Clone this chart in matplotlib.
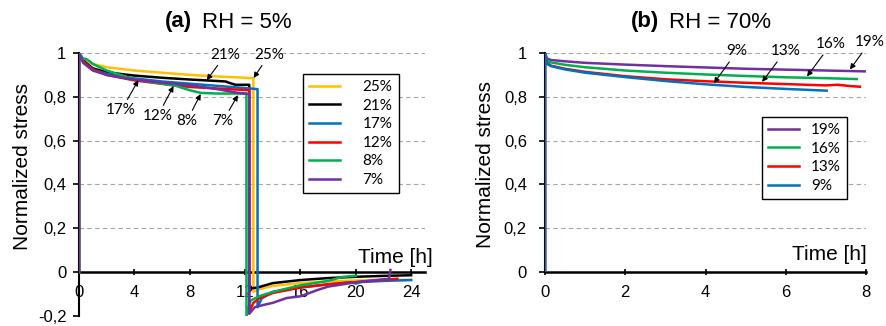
import matplotlib
matplotlib.use("Agg")
import matplotlib.pyplot as plt

plt.rcParams['font.family'] = ['Liberation Sans', 'DejaVu Sans']

# ---- (a) RH = 5% : relaxation then unloading at ~12 h ----
t25 = [0, 0, 0.3, 1, 2, 4, 6, 8, 10, 12, 12.6, 12.6, 12.9, 13.5, 14, 16, 18, 20, 22, 24]
s25 = [0, 1, 0.97, 0.95, 0.935, 0.92, 0.91, 0.90, 0.893, 0.887, 0.885, -0.09, -0.08, -0.07, -0.063, -0.05, -0.042, -0.038, -0.035, -0.035]

t21 = [0, 0, 0.3, 1, 2, 4, 6, 8, 9.2, 10.6, 10.8, 11.3, 12.3, 12.3, 12.9, 14, 16, 18, 20, 22, 24]
s21 = [0, 1, 0.965, 0.93, 0.912, 0.897, 0.887, 0.879, 0.875, 0.87, 0.865, 0.855, 0.855, -0.075, -0.07, -0.05, -0.036, -0.027, -0.021, -0.017, -0.014]

t17 = [0, 0, 0.3, 1, 2, 4, 6, 8, 10, 12, 12.9, 12.9, 13.2, 14, 16, 18, 19.6, 20, 20.4, 22, 24]
s17 = [0, 1, 0.96, 0.925, 0.905, 0.884, 0.87, 0.86, 0.85, 0.84, 0.835, -0.16, -0.12, -0.09, -0.07, -0.056, -0.046, -0.052, -0.045, -0.04, -0.036]

t12 = [0, 0, 0.3, 1, 2, 4, 6.8, 8, 10, 12.3, 12.3, 12.6, 13, 14, 16, 18, 20, 22, 23]
s12 = [0, 1, 0.96, 0.925, 0.9, 0.875, 0.853, 0.845, 0.838, 0.83, -0.18, -0.14, -0.12, -0.095, -0.07, -0.055, -0.045, -0.035, -0.03]

t8 = [0, 0, 0.3, 0.6, 1, 2, 4, 6, 7, 8, 8.8, 10, 11, 12.1, 12.1, 12.4, 13, 14, 16, 18, 19, 20]
s8 = [0, 1, 0.975, 0.97, 0.95, 0.92, 0.88, 0.86, 0.85, 0.83, 0.818, 0.815, 0.815, 0.815, -0.2, -0.13, -0.11, -0.09, -0.06, -0.04, -0.022, -0.016]

t7 = [0, 0, 0.3, 1, 2, 4, 6, 8, 10, 11.5, 12.3, 12.3, 12.7, 13.3, 14, 15, 16, 17.3, 18, 20, 22.4, 22.5]
s7 = [0, 1, 0.955, 0.92, 0.9, 0.878, 0.865, 0.853, 0.835, 0.818, 0.813, -0.19, -0.16, -0.15, -0.14, -0.118, -0.11, -0.08, -0.066, -0.046, -0.03, 0.01]

labels_a = ['25%', '21%', '17%', '12%', '8%', '7%']
colors_a = ['#FFC000', '#000000', '#0070C0', '#FF0000', '#00B050', '#7030A0']
series_a = [(t25, s25), (t21, s21), (t17, s17), (t12, s12), (t8, s8), (t7, s7)]

# arrow labels: (text, text position, arrow tip)
notes_a = [
    ('21%', (10.6, 0.993), (9.23, 0.876)),
    ('25%', (13.74, 0.993), (12.62, 0.886)),
    ('17%', (3.05, 0.738), (4.29, 0.876)),
    ('12%', (5.67, 0.711), (6.83, 0.849)),
    ('8%', (7.78, 0.688), (8.79, 0.813)),
    ('7%', (10.39, 0.688), (11.48, 0.808)),
]

# ---- (b) RH = 70% ----
t19 = [0, 0, 0.05, 0.15, 0.5, 1, 2, 3, 4, 5, 6, 7, 8]
s19 = [0, 1, 0.975, 0.968, 0.962, 0.955, 0.947, 0.94, 0.934, 0.928, 0.924, 0.92, 0.916]

t16 = [0, 0, 0.05, 0.15, 0.5, 1, 2, 3, 4, 5, 6, 7, 7.77]
s16 = [0, 1, 0.965, 0.957, 0.946, 0.935, 0.92, 0.91, 0.902, 0.895, 0.889, 0.885, 0.881]

t13 = [0, 0, 0.05, 0.15, 0.5, 1, 2, 3, 4, 5, 6, 7, 7.3, 7.6, 7.85]
s13 = [0, 1, 0.955, 0.942, 0.928, 0.914, 0.894, 0.88, 0.871, 0.864, 0.858, 0.852, 0.855, 0.849, 0.846]

t9 = [0, 0, 0.05, 0.15, 0.5, 1, 2, 3, 4, 5, 6, 7.02]
s9 = [0, 1, 0.95, 0.94, 0.925, 0.91, 0.89, 0.872, 0.857, 0.845, 0.836, 0.828]

labels_b = ['19%', '16%', '13%', '9%']
colors_b = ['#7030A0', '#00B050', '#FF0000', '#0070C0']
series_b = [(t19, s19), (t16, s16), (t13, s13), (t9, s9)]

notes_b = [
    ('9%', (4.79, 1.009), (4.21, 0.862)),
    ('13%', (5.99, 1.009), (5.41, 0.868)),
    ('16%', (7.13, 1.041), (6.53, 0.893)),
    ('19%', (8.1, 1.05), (7.6, 0.925)),
]

yticks_a = [-0.2, 0, 0.2, 0.4, 0.6, 0.8, 1.0]
ylabels_a = ['-0,2', '0', '0,2', '0,4', '0,6', '0,8', '1']
xticks_a = [0, 4, 8, 12, 16, 20, 24]
yticks_b = [0, 0.2, 0.4, 0.6, 0.8, 1.0]
ylabels_b = ['0', '0,2', '0,4', '0,6', '0,8', '1']
xticks_b = [0, 2, 4, 6, 8]

W, H = 886, 326
fig = plt.figure(figsize=(W / 100, H / 100), dpi=100)
ax1 = fig.add_axes([79 / W, 1 - 316 / H, 346 / W, 263 / H])
ax2 = fig.add_axes([545 / W, 1 - 272 / H, 321 / W, 219 / H])

grid_kw = dict(color='#A6A6A6', lw=0.8, ls=(0, (4, 3)), zorder=1)
note_font = ['Lato', 'DejaVu Sans']


def style(ax, xlim, ylim, xticks, yticks, ylabels, ypad):
    ax.set_xlim(*xlim)
    ax.set_ylim(*ylim)
    for y in yticks:
        if y != 0:
            ax.axhline(y, **grid_kw)
    for s in ['top', 'right']:
        ax.spines[s].set_visible(False)
    ax.spines['bottom'].set_position(('data', 0))
    ax.spines['bottom'].set_linewidth(1.8)
    ax.spines['left'].set_linewidth(1.5)
    ax.set_xticks(xticks)
    ax.set_xticklabels([str(x) for x in xticks])
    ax.set_yticks(yticks)
    ax.set_yticklabels(ylabels)
    ax.tick_params(axis='x', direction='inout', length=5, width=1.2, pad=7, labelsize=12)
    ax.tick_params(axis='y', direction='out', length=4, width=1.2, pad=ypad, labelsize=12)


style(ax1, (0, 25), (-0.2, 1.0), xticks_a, yticks_a, ylabels_a, 5)
style(ax2, (0, 8), (0, 1.0), xticks_b, yticks_b, ylabels_b, 9)

for (t, s), c, lab in zip(series_a, colors_a, labels_a):
    ax1.plot(t, s, color=c, lw=1.8, label=lab, zorder=3)
for (t, s), c, lab in zip(series_b, colors_b, labels_b):
    ax2.plot(t, s, color=c, lw=1.8, label=lab, zorder=3)

for ax, notes in [(ax1, notes_a), (ax2, notes_b)]:
    for txt, pos, tip in notes:
        ax.annotate(txt, xy=tip, xytext=pos, ha='center', va='center',
                    fontsize=11, family=note_font, annotation_clip=False,
                    arrowprops=dict(arrowstyle='-|>', color='black', lw=0.8,
                                    mutation_scale=8, shrinkA=1, shrinkB=0))

for ax, xy, ypos in [(ax1, (1.023, 0.224), (-0.136, 0.57)), (ax2, (1.003, 0.078), (-0.156, 0.489))]:
    ax.set_xlabel('Time [h]', fontsize=15, ha='right', va='center')
    ax.xaxis.set_label_coords(*xy)
    ax.set_ylabel('Normalized stress', fontsize=15)
    ax.yaxis.set_label_coords(*ypos)

leg_kw = dict(loc='upper left', bbox_transform=fig.transFigure, fancybox=False,
              framealpha=1, edgecolor='black', prop={'family': note_font, 'size': 11},
              handlelength=2.0, borderpad=0.4, borderaxespad=0)
leg1 = ax1.legend(bbox_to_anchor=(303 / W, 1 - 74 / H), handletextpad=1.5,
                  labelspacing=0.3, **leg_kw)
leg2 = ax2.legend(bbox_to_anchor=(762 / W, 1 - 117 / H), handletextpad=0.8,
                  labelspacing=0.3, **leg_kw)
for leg in (leg1, leg2):
    leg.get_frame().set_linewidth(1.0)
    leg.set_zorder(5)

# panel titles: bold tag + plain text
ty = 1 - 22 / H
fig.text(192 / W, ty, '(a)', fontsize=16, fontweight='bold', ha='right', va='center')
fig.text(202 / W, ty, 'RH = 5%', fontsize=16, ha='left', va='center')
fig.text(659 / W, ty, '(b)', fontsize=16, fontweight='bold', ha='right', va='center')
fig.text(669 / W, ty, 'RH = 70%', fontsize=16, ha='left', va='center')

fig.savefig('out.png', dpi=100)
